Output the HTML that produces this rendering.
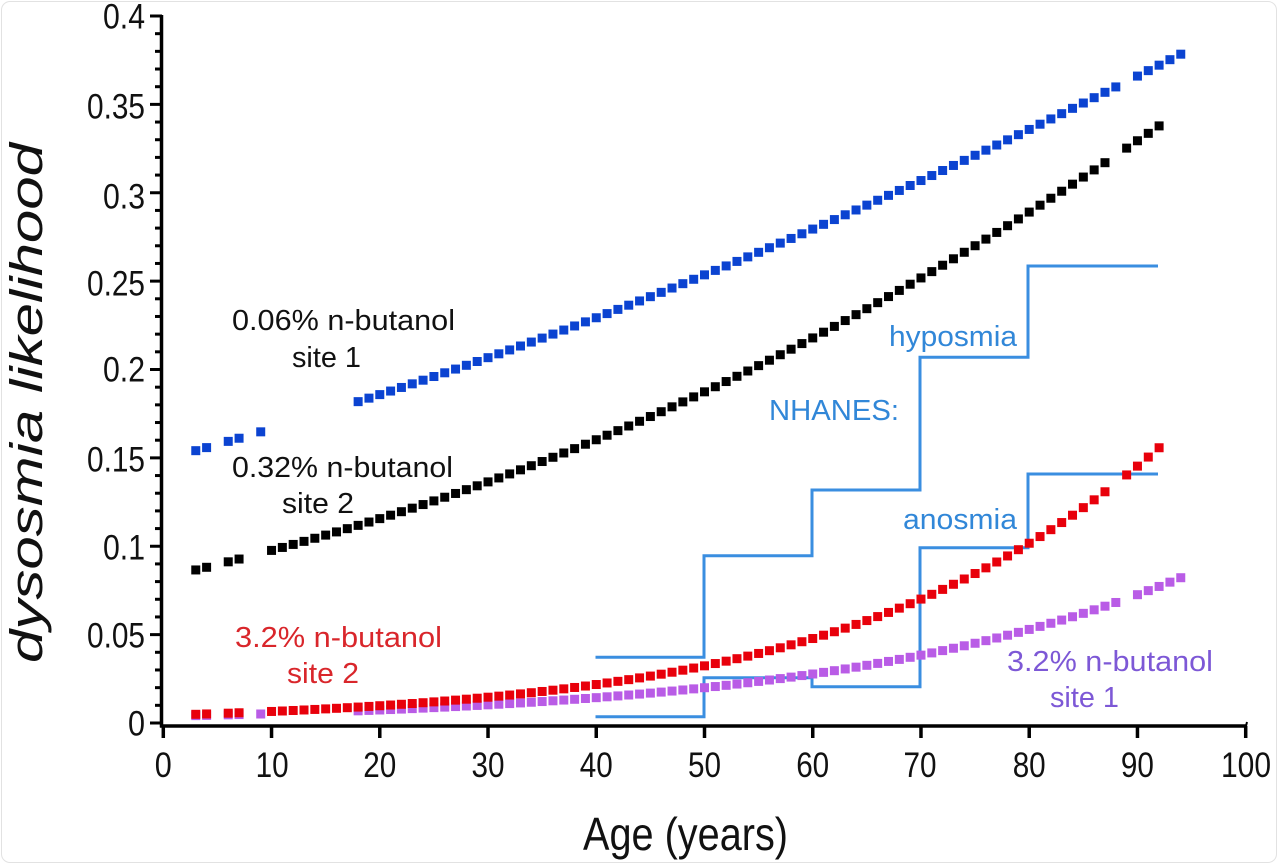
<!DOCTYPE html>
<html>
<head>
<meta charset="utf-8">
<style>
  html,body{margin:0;padding:0;background:#fff;}
  body{width:1280px;height:866px;overflow:hidden;position:relative;}
  .frame{position:absolute;left:1px;top:1px;width:1276px;height:862px;border:1px solid #e2e2e2;border-radius:9px;box-sizing:border-box;}
  svg{position:absolute;left:0;top:0;}
  text{font-family:"Liberation Sans",Arial,sans-serif;}
</style>
</head>
<body>
<div class="frame"></div>
<svg id="chart" width="1280" height="866" viewBox="0 0 1280 866" xmlns="http://www.w3.org/2000/svg">
  <!-- axes -->
  <g stroke="#000" fill="none">
    <line x1="161.5" y1="15" x2="161.5" y2="727.5" stroke-width="3.5"/>
    <line x1="160" y1="726" x2="1247" y2="726" stroke-width="3.5"/>
    <line x1="1246" y1="726" x2="1247" y2="722" stroke-width="2"/>
  </g>
  <g id="yticks" stroke="#000" stroke-width="3"></g>
  <g id="xticks" stroke="#000" stroke-width="3.5"></g>

  <!-- y tick labels -->
  <g font-size="35" fill="#111" text-anchor="end">
    <text x="145" y="28.5" textLength="42" lengthAdjust="spacingAndGlyphs">0.4</text>
    <text x="145" y="118.5" textLength="58" lengthAdjust="spacingAndGlyphs">0.35</text>
    <text x="145" y="208.5" textLength="42" lengthAdjust="spacingAndGlyphs">0.3</text>
    <text x="145" y="295.5" textLength="58" lengthAdjust="spacingAndGlyphs">0.25</text>
    <text x="145" y="381.5" textLength="42" lengthAdjust="spacingAndGlyphs">0.2</text>
    <text x="145" y="471.5" textLength="58" lengthAdjust="spacingAndGlyphs">0.15</text>
    <text x="145" y="559.5" textLength="42" lengthAdjust="spacingAndGlyphs">0.1</text>
    <text x="145" y="647.5" textLength="58" lengthAdjust="spacingAndGlyphs">0.05</text>
    <text x="145" y="735.5" textLength="17" lengthAdjust="spacingAndGlyphs">0</text>
  </g>

  <!-- x tick labels -->
  <g font-size="35" fill="#111" text-anchor="middle">
    <text x="163.3" y="777" textLength="17" lengthAdjust="spacingAndGlyphs">0</text>
    <text x="272.1" y="777" textLength="33" lengthAdjust="spacingAndGlyphs">10</text>
    <text x="379.8" y="777" textLength="33" lengthAdjust="spacingAndGlyphs">20</text>
    <text x="488.0" y="777" textLength="33" lengthAdjust="spacingAndGlyphs">30</text>
    <text x="596.3" y="777" textLength="33" lengthAdjust="spacingAndGlyphs">40</text>
    <text x="704.5" y="777" textLength="33" lengthAdjust="spacingAndGlyphs">50</text>
    <text x="812.7" y="777" textLength="33" lengthAdjust="spacingAndGlyphs">60</text>
    <text x="920.0" y="777" textLength="33" lengthAdjust="spacingAndGlyphs">70</text>
    <text x="1029.2" y="777" textLength="33" lengthAdjust="spacingAndGlyphs">80</text>
    <text x="1137.4" y="777" textLength="33" lengthAdjust="spacingAndGlyphs">90</text>
    <text x="1246" y="777" textLength="50" lengthAdjust="spacingAndGlyphs">100</text>
  </g>

  <!-- axis titles -->
  <text x="583" y="850" font-size="46" fill="#111" textLength="205" lengthAdjust="spacingAndGlyphs">Age (years)</text>
  <text transform="translate(42,403) rotate(-90)" x="0" y="0" font-size="45" font-style="italic" fill="#111" text-anchor="middle" textLength="520" lengthAdjust="spacingAndGlyphs">dysosmia likelihood</text>

  <!-- NHANES step lines -->
  <g fill="none" stroke="#3a8ee0" stroke-width="3">
    <path d="M595.5 657.3 H704 V555.7 H812 V490 H920 V357.3 H1028 V266 H1158"/>
    <path d="M595.5 716.7 H704 V677.7 H812 V686.7 H920 V547.7 H1028 V474 H1158"/>
  </g>

  <g id="markers"></g>

  <!-- annotations -->
  <g font-size="29" fill="#111">
    <text x="232" y="330" textLength="223" lengthAdjust="spacingAndGlyphs">0.06% n-butanol</text>
    <text x="292" y="367" textLength="69" lengthAdjust="spacingAndGlyphs">site 1</text>
    <text x="232" y="477" textLength="221" lengthAdjust="spacingAndGlyphs">0.32% n-butanol</text>
    <text x="282" y="513" textLength="72" lengthAdjust="spacingAndGlyphs">site 2</text>
  </g>
  <g font-size="29" fill="#d9262b">
    <text x="235" y="647" textLength="207" lengthAdjust="spacingAndGlyphs">3.2% n-butanol</text>
    <text x="287" y="683" textLength="72" lengthAdjust="spacingAndGlyphs">site 2</text>
  </g>
  <g font-size="29" fill="#7d58d6">
    <text x="1007" y="671" textLength="206" lengthAdjust="spacingAndGlyphs">3.2% n-butanol</text>
    <text x="1050" y="707" textLength="69" lengthAdjust="spacingAndGlyphs">site 1</text>
  </g>
  <g font-size="29" fill="#3187d8">
    <text x="769" y="420" textLength="130" lengthAdjust="spacingAndGlyphs">NHANES:</text>
    <text x="889" y="346" textLength="128" lengthAdjust="spacingAndGlyphs">hyposmia</text>
    <text x="903" y="529" textLength="114" lengthAdjust="spacingAndGlyphs">anosmia</text>
  </g>
</svg>
<script>
(function(){
  var NS="http://www.w3.org/2000/svg";
  function X(a){return 163.3+10.824*a;}
  function Y(v){return 723-1767.5*v;}
  function el(name,attrs,parent){var e=document.createElementNS(NS,name);for(var k in attrs)e.setAttribute(k,attrs[k]);parent.appendChild(e);return e;}
  var yt=document.getElementById('yticks');
  for(var i=0;i<=40;i++){
    var v=i*0.01,y=Y(v);
    if(i%5===0) el('line',{x1:150,y1:y,x2:162,y2:y},yt);
    else el('line',{x1:155,y1:y,x2:163,y2:y},yt);
  }
  var xt=document.getElementById('xticks');
  for(var j=0;j<=10;j++){var x=X(j*10);el('line',{x1:x,y1:726,x2:x,y2:738},xt);}
  function lg(z){return 1/(1+Math.exp(-z));}
  var site1=[3,4,6,7,9],site2=[3,4,6,7];
  for(var a=18;a<=94;a++){if(a!==89)site1.push(a);}
  for(var b=10;b<=92;b++){if(b!==88)site2.push(b);}
  var series=[
    {ages:site1,f:function(a){return lg(-5.274+0.03366*(a-9));},c:'#b95ce6',s:9},
    {ages:site2,f:function(a){return lg(-5.31+0.04067*(a-3));},c:'#e8000b',s:9},
    {ages:site1,f:function(a){return lg(-1.703+0.01326*(a-3));},c:'#0b43d1',s:9},
    {ages:site2,f:function(a){return lg(-2.356+0.01891*(a-3));},c:'#000000',s:9}
  ];
  var g=document.getElementById('markers');
  series.forEach(function(sr){
    sr.ages.forEach(function(a){
      var cx=X(a),cy=Y(sr.f(a));
      el('rect',{x:(cx-sr.s/2).toFixed(2),y:(cy-sr.s/2).toFixed(2),width:sr.s,height:sr.s,fill:sr.c},g);
    });
  });
})();
</script>
</body>
</html>
